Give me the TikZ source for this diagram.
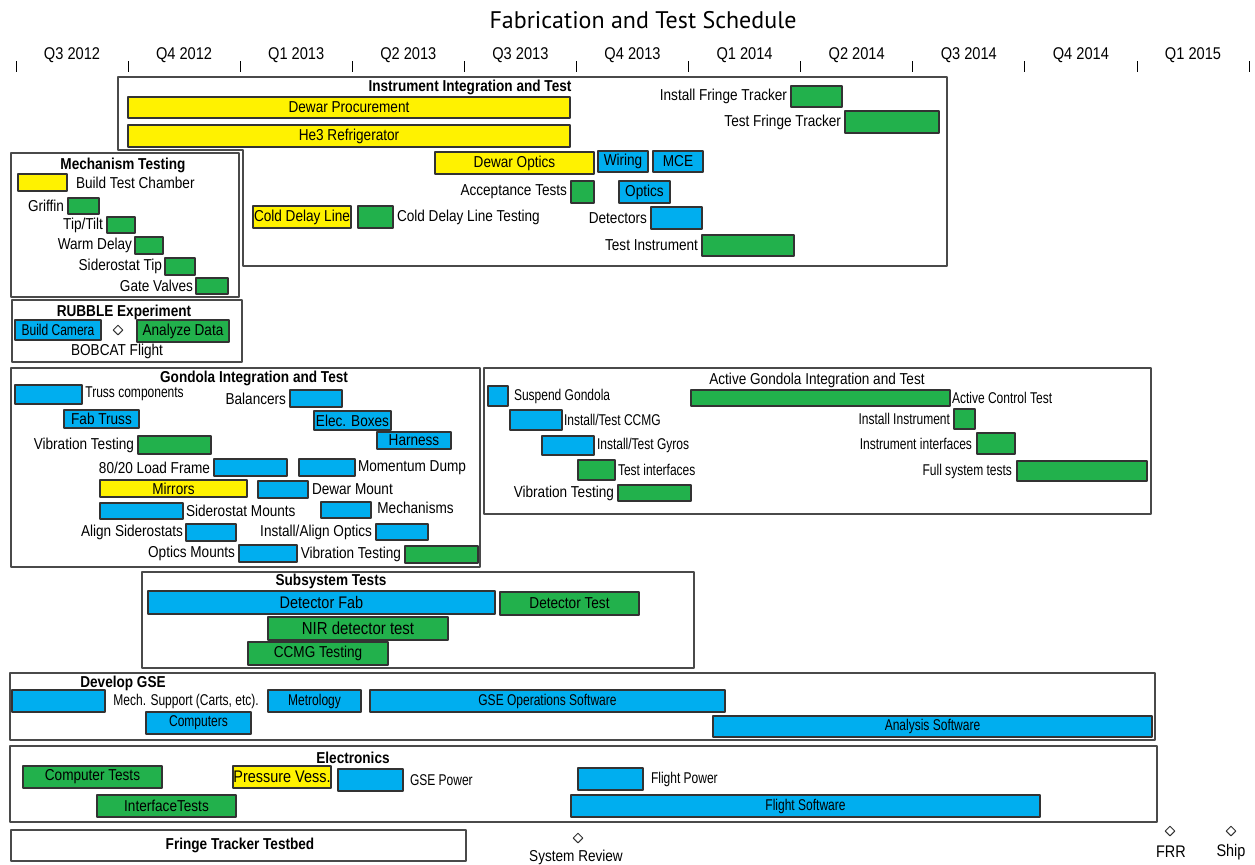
\documentclass[tikz,border=0pt]{standalone}
\usepackage{fontspec}
\setmainfont{Liberation Sans}[FakeStretch=0.86]
\newfontfamily\condensedfont{Liberation Sans}[FakeStretch=0.77]
\newfontfamily\titlefont{PT Sans}
\usetikzlibrary{positioning,shapes.geometric}
\definecolor{barYellow}{HTML}{FFF200}
\definecolor{barGreen}{HTML}{22B14C}
\definecolor{barBlue}{HTML}{00AEEF}
\definecolor{barEdge}{HTML}{333333}
\definecolor{boxEdge}{HTML}{4A4A4A}
% one task bar: name, x1, y1, x2, y2, fill, text
\newcommand\gantt[7]{\node[ganttbar, fill=#6, minimum width={(#4-#2)*0.5pt}, minimum height={(#5-#3)*0.5pt}] (#1) at ({(#2+#4)/2},{(#3+#5)/2}) {#7};}
\begin{document}
\begin{tikzpicture}[x=0.5pt, y=-0.5pt, line join=round,
  ganttbar/.style={draw=barEdge, line width=0.6pt, inner sep=0pt, font=\fontsize{7.9}{9}\selectfont},
  lbl/.style={inner sep=0pt, font=\fontsize{7.9}{9}\selectfont},
  smalltxt/.style={font=\condensedfont\fontsize{7.8}{9}\selectfont},
  head/.style={inner sep=0pt, font=\bfseries\fontsize{7.9}{9}\selectfont},
  grp/.style={draw=boxEdge, line width=0.9pt},
  mile/.style={diamond, draw=barEdge, fill=white, minimum size=5pt, inner sep=0pt, line width=0.5pt}]
\useasboundingbox (0,0) rectangle (1255,864);

% title and quarters
\node[font=\titlefont\fontsize{12}{14}\selectfont, inner sep=0pt] (title) at (643,20) {Fabrication and Test Schedule};
\foreach \i in {0,...,11}
  \draw[line width=0.5pt] ({16+\i*112.1},61) -- ({16+\i*112.1},72);
\foreach \q [count=\i from 0] in {Q3 2012,Q4 2012,Q1 2013,Q2 2013,Q3 2013,Q4 2013,Q1 2014,Q2 2014,Q3 2014,Q4 2014,Q1 2015}
  \node[font=\fontsize{8.5}{10}\selectfont, inner sep=0pt] (q\i) at ({72+\i*112.1},55) {\q};

% Instrument Integration and Test
\draw[grp] (118,77) -- (947,77) -- (947,266) -- (243,266) -- (243,150) -- (118,150) -- cycle;
\node[head] (iit) at (470,87) {Instrument Integration and Test};
\gantt{dewproc}{128}{97}{570}{118}{barYellow}{Dewar Procurement}
\gantt{he3}{128}{125}{570}{147}{barYellow}{He3 Refrigerator}
\gantt{instft}{791}{86}{842}{107}{barGreen}{}
\node[lbl, left=1.5pt of instft] (instft-l) {Install Fringe Tracker};
\gantt{testft}{845}{111}{939}{133}{barGreen}{}
\node[lbl, left=1.5pt of testft] (testft-l) {Test Fringe Tracker};
\gantt{dewopt}{435}{152}{594}{174}{barYellow}{Dewar Optics}
\gantt{wiring}{598}{151}{648}{172}{barBlue}{Wiring}
\gantt{mce}{653}{151}{703}{172}{barBlue}{MCE}
\gantt{accept}{571}{181}{594}{203}{barGreen}{}
\node[lbl, left=1.5pt of accept] (accept-l) {Acceptance Tests};
\gantt{optics}{619}{181}{670}{203}{barBlue}{Optics}
\gantt{cdl}{253}{206}{351}{228}{barYellow}{Cold Delay Line}
\gantt{cdltest}{358}{206}{393}{228}{barGreen}{}
\node[lbl, right=1.5pt of cdltest] (cdltest-l) {Cold Delay Line Testing};
\gantt{detect}{651}{207}{702}{229}{barBlue}{}
\node[lbl, left=1.5pt of detect] (detect-l) {Detectors};
\gantt{testinst}{702}{235}{794}{256}{barGreen}{}
\node[lbl, left=1.5pt of testinst] (testinst-l) {Test Instrument};

% Mechanism Testing
\draw[grp] (11,153) rectangle (239,297);
\node[head] (mech) at (123,165) {Mechanism Testing};
\gantt{chamber}{18}{174}{67}{191}{barYellow}{}
\node[lbl, right=4pt of chamber] (chamber-l) {Build Test Chamber};
\gantt{griffin}{68}{198}{99}{214}{barGreen}{}
\node[lbl, left=1.5pt of griffin] (griffin-l) {Griffin};
\gantt{tiptilt}{107}{217}{135}{233}{barGreen}{}
\node[lbl, left=1.5pt of tiptilt] (tiptilt-l) {Tip/Tilt};
\gantt{warm}{135}{237}{163}{254}{barGreen}{}
\node[lbl, left=1pt of warm] (warm-l) {Warm Delay};
\gantt{sidtip}{165}{258}{195}{275}{barGreen}{}
\node[lbl, left=1pt of sidtip] (sidtip-l) {Siderostat Tip};
\gantt{gate}{196}{278}{228}{294}{barGreen}{}
\node[lbl, left=1pt of gate] (gate-l) {Gate Valves};

% RUBBLE Experiment
\draw[grp] (12,300) rectangle (242,362);
\node[head] (rubble) at (124,312) {RUBBLE Experiment};
\gantt{camera}{15}{320}{101}{340}{barBlue, smalltxt}{Build Camera}
\node[mile] (bobcat) at (118,330) {};
\gantt{analyze}{137}{320}{229}{342}{barGreen}{Analyze Data}
\node[lbl] (bobcat-l) at (117,351) {BOBCAT Flight};

% Gondola Integration and Test
\draw[grp] (11,368) rectangle (480,567);
\node[head] (git) at (254,378) {Gondola Integration and Test};
\gantt{truss}{15}{385}{82}{404}{barBlue}{}
\node[lbl, smalltxt, anchor=west] (truss-l) at (85,394) {Truss components};
\gantt{balance}{290}{390}{342}{407}{barBlue}{}
\node[lbl, left=1.5pt of balance] (balance-l) {Balancers};
\gantt{fabtruss}{64}{410}{139}{428}{barBlue}{Fab Truss}
\gantt{elec}{314}{411}{391}{430}{barBlue}{Elec. Boxes}
\gantt{harness}{377}{432}{451}{449}{barBlue}{Harness}
\gantt{vibg}{138}{436}{211}{454}{barGreen}{}
\node[lbl, left=1.5pt of vibg] (vibg-l) {Vibration Testing};
\gantt{load}{214}{459}{287}{476}{barBlue}{}
\node[lbl, left=1.5pt of load] (load-l) {80/20 Load Frame};
\gantt{momentum}{299}{459}{355}{476}{barBlue}{}
\node[lbl, right=1pt of momentum] (momentum-l) {Momentum Dump};
\gantt{mirrors}{100}{480}{247}{497}{barYellow}{Mirrors}
\gantt{dewmount}{258}{481}{308}{498}{barBlue}{}
\node[lbl, right=1.5pt of dewmount] (dewmount-l) {Dewar Mount};
\gantt{sidmount}{100}{503}{183}{519}{barBlue}{}
\node[lbl, right=1pt of sidmount] (sidmount-l) {Siderostat Mounts};
\gantt{mechs}{321}{502}{371}{518}{barBlue}{}
\node[lbl, anchor=west] (mechs-l) at (377,508) {Mechanisms};
\gantt{alignsid}{186}{524}{236}{541}{barBlue}{}
\node[lbl, left=1pt of alignsid] (alignsid-l) {Align Siderostats};
\gantt{alignopt}{376}{524}{428}{540}{barBlue}{}
\node[lbl, left=1.5pt of alignopt] (alignopt-l) {Install/Align Optics};
\gantt{optmount}{239}{545}{297}{562}{barBlue}{}
\node[lbl, left=1.5pt of optmount] (optmount-l) {Optics Mounts};
\gantt{vibg2}{405}{546}{478}{563}{barGreen}{}
\node[lbl, left=1.5pt of vibg2] (vibg2-l) {Vibration Testing};

% Active Gondola Integration and Test
\draw[grp] (484,368) rectangle (1151,514);
\node[lbl] (agit) at (817,380) {Active Gondola Integration and Test};
\gantt{suspend}{488}{386}{508}{406}{barBlue}{}
\node[lbl, smalltxt, right=2.5pt of suspend] (suspend-l) {Suspend Gondola};
\gantt{actctl}{691}{390}{950}{406}{barGreen}{}
\node[lbl, smalltxt, right=0.5pt of actctl] (actctl-l) {Active Control Test};
\gantt{ccmg}{510}{410}{562}{430}{barBlue}{}
\node[lbl, smalltxt, right=0.5pt of ccmg] (ccmg-l) {Install/Test CCMG};
\gantt{instinst}{954}{409}{975}{429}{barGreen}{}
\node[lbl, smalltxt, left=1.5pt of instinst] (instinst-l) {Install Instrument};
\gantt{gyros}{542}{436}{594}{455}{barBlue}{}
\node[lbl, smalltxt, right=1pt of gyros] (gyros-l) {Install/Test Gyros};
\gantt{instif}{977}{433}{1015}{454}{barGreen}{}
\node[lbl, smalltxt, left=2pt of instif] (instif-l) {Instrument interfaces};
\gantt{testif}{578}{460}{615}{480}{barGreen}{}
\node[lbl, smalltxt, right=1pt of testif] (testif-l) {Test interfaces};
\gantt{fullsys}{1017}{461}{1147}{481}{barGreen}{}
\node[lbl, smalltxt, left=2pt of fullsys] (fullsys-l) {Full system tests};
\gantt{viba}{618}{485}{691}{501}{barGreen}{}
\node[lbl, left=1.5pt of viba] (viba-l) {Vibration Testing};

% Subsystem Tests
\draw[grp] (142,572) rectangle (694,668);
\node[head] (subsys) at (331,581) {Subsystem Tests};
\gantt{detfab}{148}{591}{495}{614}{barBlue}{\fontsize{8.4}{9}\selectfont Detector Fab}
\gantt{dettest}{500}{592}{639}{615}{barGreen}{Detector Test}
\gantt{nir}{268}{617}{448}{640}{barGreen}{\fontsize{8.7}{9}\selectfont NIR detector test}
\gantt{ccmgtest}{248}{642}{388}{665}{barGreen}{CCMG Testing}

% Develop GSE
\draw[grp] (10,673) rectangle (1155,740);
\node[head] (gse) at (123,683) {Develop GSE};
\gantt{mechsup}{12}{690}{105}{712}{barBlue}{}
\node[lbl, smalltxt, anchor=west] (mechsup-l) at (113,701) {Mech. Support (Carts, etc).};
\gantt{metro}{268}{690}{361}{712}{barBlue, smalltxt}{Metrology}
\gantt{gseops}{370}{690}{725}{712}{barBlue, smalltxt}{GSE Operations Software}
\gantt{computers}{146}{712}{251}{734}{barBlue, smalltxt}{Computers}
\gantt{analysis}{713}{716}{1152}{737}{barBlue, smalltxt}{Analysis Software}

% Electronics
\draw[grp] (10,746) rectangle (1157,822);
\node[head] (elecs) at (353,758) {Electronics};
\gantt{comptest}{23}{766}{162}{788}{barGreen}{Computer Tests}
\gantt{pressure}{233}{766}{331}{788}{barYellow}{\fontsize{8.4}{9}\selectfont Pressure Vess.}
\gantt{gsepow}{338}{769}{403}{791}{barBlue}{}
\node[lbl, smalltxt, right=3pt of gsepow] (gsepow-l) {GSE Power};
\gantt{flightpow}{578}{768}{643}{790}{barBlue}{}
\node[lbl, smalltxt, right=3.5pt of flightpow] (flightpow-l) {Flight Power};
\gantt{iftest}{97}{795}{236}{817}{barGreen}{InterfaceTests}
\gantt{flightsw}{571}{795}{1040}{817}{barBlue, smalltxt}{Flight Software}

% Fringe Tracker Testbed and milestones
\draw[grp] (11,830) rectangle (466,861);
\node[head] (ftt) at (240,845) {Fringe Tracker Testbed};
\node[mile] (sysrev) at (578,838) {};
\node[lbl] (sysrev-l) at (576,857) {System Review};
\node[mile] (frr) at (1170,831) {};
\node[lbl, font=\fontsize{8.4}{9}\selectfont] (frr-l) at (1171,852) {FRR};
\node[mile] (ship) at (1231,831) {};
\node[lbl, font=\fontsize{8.4}{9}\selectfont] (ship-l) at (1231,852) {Ship};
\end{tikzpicture}
\end{document}
